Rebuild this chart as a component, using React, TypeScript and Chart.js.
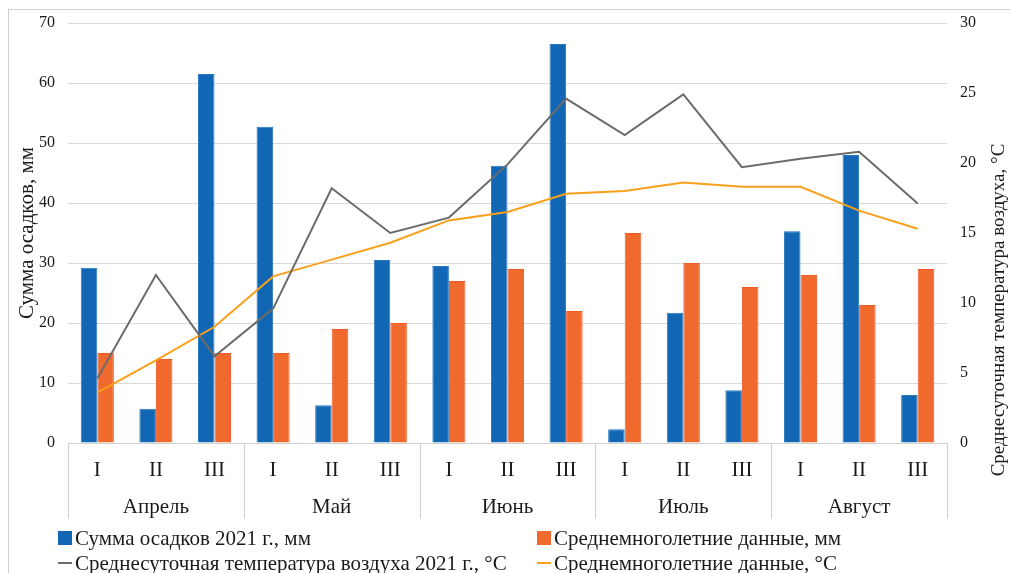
import React, { useEffect, useRef } from "react";
import { Chart, registerables } from "chart.js";

Chart.register(...registerables);

const decadeLabels = ["I", "II", "III", "I", "II", "III", "I", "II", "III", "I", "II", "III", "I", "II", "III"];
const monthLabels = ["Апрель", "Май", "Июнь", "Июль", "Август"];

const precip2021 = [29.2, 5.7, 61.5, 52.7, 6.3, 30.5, 29.5, 46.2, 66.5, 2.3, 21.7, 8.8, 35.3, 48.0, 8.0];
const precipNorm = [15, 14, 15, 15, 19, 20, 27, 29, 22, 35, 30, 26, 28, 23, 29];
const temp2021 = [4.6, 12.0, 6.2, 9.6, 18.2, 15.0, 16.1, 19.9, 24.6, 22.0, 24.9, 19.7, 20.3, 20.8, 17.1];
const tempNorm = [3.6, 5.9, 8.3, 11.9, 13.1, 14.3, 15.9, 16.5, 17.8, 18.0, 18.6, 18.3, 18.3, 16.6, 15.3];

const seriesNames = [
  "Сумма осадков 2021 г., мм",
  "Среднемноголетние данные, мм",
  "Среднесуточная температура воздуха 2021 г., °C",
  "Среднемноголетние данные, °C",
];
const leftTitle = "Сумма осадков, мм";
const rightTitle = "Среднесуточная температура воздуха, °C";

const BLUE = "#1167b3";
const ORANGE = "#f06a2e";
const GRAY = "#6b6b6b";
const YELLOW = "#f9a01b";
const GRID = "#d9d9d9";
const FONT = "'Liberation Serif', 'Times New Roman', serif";
const TEXT = "#1a1a1a";

const separatorPlugin = {
  id: "monthSeparators",
  afterDraw(chart: any) {
    const x = chart.scales.x;
    const x2 = chart.scales.x2;
    const y1 = chart.scales.y1;
    const ctx = chart.ctx;
    const n = monthLabels.length;
    ctx.save();
    ctx.strokeStyle = "#d0d0d0";
    ctx.lineWidth = 1;
    for (let i = 0; i <= n; i++) {
      const px = Math.round(x.left + (i * (x.right - x.left)) / n) + 0.5;
      ctx.beginPath();
      ctx.moveTo(px, x.top);
      ctx.lineTo(px, x2.bottom - 7);
      ctx.stroke();
    }
    // right axis title, reading bottom-to-top
    ctx.translate(y1.right - 8, 310);
    ctx.rotate(-Math.PI / 2);
    ctx.fillStyle = TEXT;
    ctx.font = `19px ${FONT}`;
    ctx.textAlign = "center";
    ctx.textBaseline = "middle";
    ctx.fillText(rightTitle, 0, 0);
    ctx.restore();
  },
};

function App() {
  const ref = useRef<HTMLCanvasElement | null>(null);

  useEffect(() => {
    if (!ref.current) return;
    const chart = new Chart(ref.current, {
      type: "bar",
      data: {
        labels: decadeLabels,
        datasets: [
          {
            type: "line",
            label: seriesNames[2],
            data: temp2021,
            yAxisID: "y1",
            borderColor: GRAY,
            backgroundColor: GRAY,
            borderWidth: 2,
            pointRadius: 0,
            tension: 0,
            order: 0,
          },
          {
            type: "line",
            label: seriesNames[3],
            data: tempNorm,
            yAxisID: "y1",
            borderColor: YELLOW,
            backgroundColor: YELLOW,
            borderWidth: 2,
            pointRadius: 0,
            tension: 0,
            order: 1,
          },
          {
            type: "bar",
            label: seriesNames[0],
            data: precip2021,
            yAxisID: "y",
            backgroundColor: BLUE,
            borderColor: "#2a78c0",
            borderWidth: 1,
            categoryPercentage: 0.565,
            barPercentage: 1,
            order: 2,
          },
          {
            type: "bar",
            label: seriesNames[1],
            data: precipNorm,
            yAxisID: "y",
            backgroundColor: ORANGE,
            borderColor: "#f25a2a",
            borderWidth: 1,
            categoryPercentage: 0.565,
            barPercentage: 1,
            order: 3,
          },
        ] as any,
      },
      options: {
        responsive: false,
        animation: false,
        maintainAspectRatio: false,
        layout: { padding: { left: 15, right: 3, top: 23, bottom: 48 } },
        plugins: {
          legend: { display: false },
          tooltip: { enabled: false },
        },
        scales: {
          x: {
            type: "category",
            position: "bottom",
            weight: 0,
            grid: { display: false },
            border: { display: true, color: "#d0d0d0", width: 1 },
            ticks: { color: TEXT, font: { family: FONT, size: 21 }, padding: 7, maxRotation: 0, autoSkip: false },
            afterFit: (s: any) => {
              s.height = 44;
            },
          },
          x2: {
            type: "category",
            position: "bottom",
            weight: 1,
            labels: monthLabels,
            offset: true,
            grid: { display: false },
            border: { display: false },
            ticks: { color: TEXT, font: { family: FONT, size: 21 }, padding: 0, maxRotation: 0, autoSkip: false },
            afterFit: (s: any) => {
              s.height = 38;
            },
          },
          y: {
            type: "linear",
            position: "left",
            min: 0,
            max: 70,
            ticks: { stepSize: 10, color: TEXT, font: { family: FONT, size: 16 }, padding: 13 },
            grid: { color: GRID, drawTicks: false, lineWidth: 1 },
            border: { display: false },
            title: {
              display: true,
              text: leftTitle,
              color: TEXT,
              font: { family: FONT, size: 21 },
              padding: 0,
            },
            afterFit: (s: any) => {
              s.width = 53;
            },
          },
          y1: {
            type: "linear",
            position: "right",
            min: 0,
            max: 30,
            ticks: { stepSize: 5, color: TEXT, font: { family: FONT, size: 16 }, padding: 13 },
            grid: { drawOnChartArea: false, drawTicks: false },
            border: { display: false },
            title: { display: false },
            afterFit: (s: any) => {
              s.width = 60;
            },
          },
        } as any,
      },
      plugins: [separatorPlugin],
    });
    return () => chart.destroy();
  }, []);

  const itemText: React.CSSProperties = {
    fontFamily: FONT,
    fontSize: 21,
    color: TEXT,
    whiteSpace: "nowrap",
    lineHeight: "24px",
  };

  const legendItem = (left: number, top: number, kind: "box" | "line", color: string, text: string) => (
    <div style={{ position: "absolute", left, top, display: "flex", alignItems: "center", height: 24 }}>
      {kind === "box" ? (
        <span style={{ display: "inline-block", width: 14, height: 14, background: color, marginRight: 3 }} />
      ) : (
        <span style={{ display: "inline-block", width: 14, height: 2, background: color, marginRight: 3 }} />
      )}
      <span style={itemText}>{text}</span>
    </div>
  );

  return (
    <div
      style={{
        position: "absolute",
        left: 0,
        top: 0,
        width: 1010,
        height: 573,
        overflow: "hidden",
        background: "#fff",
      }}
    >
      <div
        style={{
          position: "absolute",
          left: 8,
          top: 9,
          width: 1100,
          height: 700,
          border: "1px solid #d0d0d0",
          boxSizing: "border-box",
        }}
      />
      <canvas ref={ref} width={1010} height={573} style={{ position: "absolute", left: 0, top: 0 }} />
      {legendItem(58, 526, "box", BLUE, seriesNames[0])}
      {legendItem(537, 526, "box", ORANGE, seriesNames[1])}
      {legendItem(58, 551, "line", GRAY, seriesNames[2])}
      {legendItem(537, 551, "line", YELLOW, seriesNames[3])}
    </div>
  );
}

export default App;
